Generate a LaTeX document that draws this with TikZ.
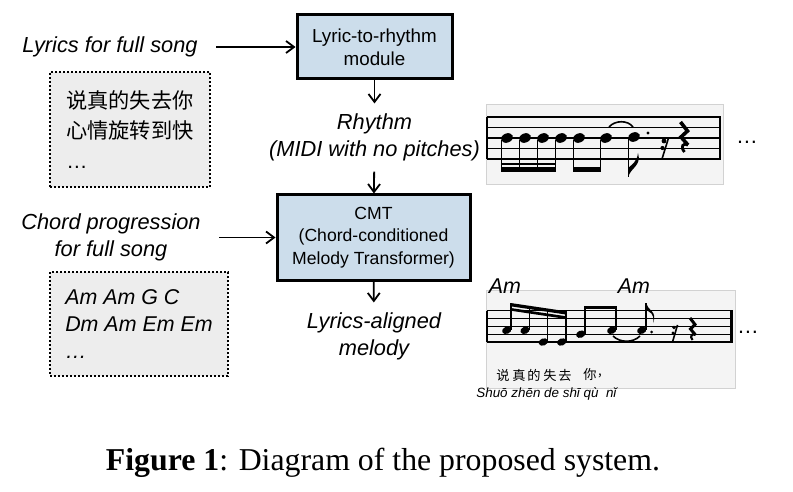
\documentclass[tikz,border=0pt]{standalone}
\usepackage{fontspec}
\setmainfont{Liberation Serif}
\setsansfont{Liberation Sans}
\newfontfamily\cjk{Noto Sans CJK SC}
\usetikzlibrary{arrows.meta,positioning,calc}
\definecolor{boxblue}{HTML}{CCDDEB}
\definecolor{notegrey}{HTML}{EDEDED}
\definecolor{scorebg}{HTML}{F4F4F4}
\definecolor{scoreline}{HTML}{D2D2D2}

% filled, tilted note head
\newcommand{\nhead}[3]{\fill[rotate around={22:(#1,#2)}] (#1,#2) ellipse [x radius=#3, y radius={0.74*#3}];}

\begin{document}
\begin{tikzpicture}[
  x=0.5pt, y=0.5pt,
  lbl/.style={font=\sffamily\itshape\fontsize{10.9}{13.5}\selectfont, align=center, inner sep=5pt},
  block/.style={
    draw, line width=1.5pt, fill=boxblue, align=center, inner sep=2pt
  },
  dotbox/.style={
    draw, dash pattern=on 1pt off 1pt, line width=1.2pt, fill=notegrey, align=left
  },
  arr/.style={-{Straight Barb[length=4pt,width=6pt]}, line width=0.9pt},
  staff/.style={line width=0.55pt},
  stem/.style={line width=0.8pt}
]
\useasboundingbox (0,0) rectangle (793,-492);

% blocks
\node[block, minimum width=77.5pt, minimum height=32pt,
  font=\sffamily\fontsize{9.4}{11.5}\selectfont] (lr) at (374.5,-47) {Lyric-to-rhythm\\module};
\node[block, minimum width=96.5pt, minimum height=42.5pt,
  font=\sffamily\fontsize{8.8}{11.2}\selectfont] (cmt) at (373.5,-237.5)
  {CMT\\(Chord-conditioned\\Melody Transformer)};

% inputs
\node[lbl] (lyrics) at (110,-47) {Lyrics for full song};
\node[dotbox, minimum width=80pt, minimum height=57.5pt,
  font=\cjk\fontsize{10.6}{15}\selectfont] (lyrbox) at (130,-129.5)
  {说真的失去你\\心情旋转到快\\{\sffamily …}};
\node[lbl] (chord) at (111,-237.5) {Chord progression\\for full song};
\node[dotbox, minimum width=89pt, minimum height=52pt,
  font=\sffamily\itshape\fontsize{10.7}{13.5}\selectfont] (chordbox) at (139,-324)
  {Am Am G C\\Dm Am Em Em\\…};

% outputs
\node[lbl] (rhythm) at (374.5,-137.5) {Rhythm\\(MIDI with no pitches)};
\node[lbl] (melody) at (374,-336.5) {Lyrics-aligned\\melody};

\draw[arr, shorten <=4pt] (lyrics) -- (lr);
\draw[arr] (lr) -- (rhythm);
\draw[arr] (rhythm) -- (cmt);
\draw[arr, shorten <=4pt] (chord) -- (chord -| cmt.west);
\draw[arr] (cmt) -- (melody);

% rhythm score
\fill[scorebg, draw=scoreline, line width=0.5pt] (486,-105) rectangle (723,-185);
\foreach \y in {117,127.5,138,148.5,159} \draw[staff] (487,-\y) -- (721,-\y);
\draw[line width=0.7pt] (487,-117) -- (487,-159);
\draw[line width=1.2pt] (720,-117) -- (720,-159);
\foreach \x in {507,525,543,561,579,606} {
  \nhead{\x}{-138}{6.2}
  \draw[stem] (\x-5.6,-140) -- (\x-5.6,-172);
}
\fill (501,-167.3) rectangle (555.8,-172.3);
\fill (501,-162.8) rectangle (555.8,-165.5);
\fill (573,-167.3) rectangle (600.8,-172.3);
\nhead{634}{-137}{6.2}
\draw[stem] (628.4,-139) -- (628.4,-177);
\fill (628.4,-177) .. controls (630,-168) and (642,-166) .. (638,-153)
  .. controls (637,-162) and (632,-164) .. (628.4,-168) -- cycle;
\fill (648,-133) circle (1.7);
\draw[line width=0.8pt] (609,-127) .. controls (615,-120) and (628,-120) .. (633,-127);
\draw[stem] (668.5,-138) -- (662,-159);
\fill (664,-141) circle (2.4);
\fill (662.5,-148) circle (2.1);
\draw[line width=1.8pt, line join=miter] (680.5,-122) -- (687.5,-131) -- (681,-137) -- (688,-145);
\draw[line width=1.4pt] (688,-145) .. controls (683,-142) and (680,-147) .. (684.5,-152);
\node[font=\sffamily\fontsize{10.9}{13}\selectfont] (dots1) at (747,-142) {…};

% melody score
\fill[scorebg, draw=scoreline, line width=0.5pt] (486,-290) rectangle (735,-388);
\foreach \y in {310.5,318.4,326.3,334.2,342} \draw[staff] (487,-\y) -- (733,-\y);
\draw[line width=0.7pt] (487,-310.5) -- (487,-342);
\draw[line width=1.2pt] (731.5,-310.5) -- (731.5,-342);
\nhead{506.7}{-330.3}{4.8}
\nhead{525}{-330.3}{4.8}
\nhead{543.3}{-342}{4.8}
\nhead{561.7}{-342}{4.8}
\nhead{580.7}{-334.2}{4.8}
\nhead{611.7}{-330.3}{4.8}
\nhead{641.7}{-330.3}{4.8}
\draw[stem] (511,-329.5) -- (511,-303);
\draw[stem] (529.3,-329.5) -- (529.3,-305.8);
\draw[stem] (547.6,-341) -- (547.6,-308.5);
\draw[stem] (566,-341) -- (566,-311.3);
\fill (510.6,-303) -- (566.4,-311.3) -- (566.4,-314.6) -- (510.6,-306.3) -- cycle;
\fill (510.6,-308) -- (566.4,-316.3) -- (566.4,-319) -- (510.6,-310.7) -- cycle;
\draw[stem] (585,-333.5) -- (585,-306);
\draw[stem] (616,-329.5) -- (616,-306);
\fill (584.6,-305.5) rectangle (616.4,-309.3);
\draw[stem] (646,-329.5) -- (646,-303);
\fill (646,-303) .. controls (647,-310) and (658,-311) .. (653,-323)
  .. controls (655,-313) and (649,-312) .. (646,-310) -- cycle;
\fill (651.5,-332) circle (1.5);
\draw[line width=0.8pt] (613,-336) .. controls (620,-343) and (633,-343) .. (640,-336);
\draw[stem] (677.5,-325) -- (672.5,-342);
\fill (674,-327.5) circle (1.9);
\fill (673,-333) circle (1.7);
\draw[line width=1.5pt, line join=miter] (690,-318) -- (695,-324.5) -- (690.5,-329) -- (695.5,-335);
\draw[line width=1.1pt] (695.5,-335) .. controls (692,-332.5) and (689.5,-336.5) .. (692.5,-340);
\node[font=\sffamily\itshape\fontsize{10.7}{13}\selectfont] (am1) at (505,-286) {Am};
\node[font=\sffamily\itshape\fontsize{10.7}{13}\selectfont] (am2) at (634,-286) {Am};
\foreach \c/\x in {说/503,真/519,的/534,失/550,去/565,你/590}
  \node[font=\cjk\fontsize{6.6}{7}\selectfont, inner sep=0pt] (ly-\x) at (\x,-375) {\c};
\node[font=\cjk\fontsize{6.6}{7}\selectfont, inner sep=0pt] (lycomma) at (600,-376) {,};
\node[font=\sffamily\itshape\fontsize{6.7}{8}\selectfont, anchor=base west, inner sep=0pt]
  (pinyin) at (476,-397) {Shuō zhēn de shī qù \ nǐ};
\node[font=\sffamily\fontsize{10.9}{13}\selectfont] (dots2) at (748,-332) {…};

% caption
\node[font=\rmfamily\fontsize{15.9}{18}\selectfont, anchor=base] (cap) at (383,-470)
  {\textbf{Figure 1}: Diagram of the proposed system.};

\end{tikzpicture}
\end{document}
